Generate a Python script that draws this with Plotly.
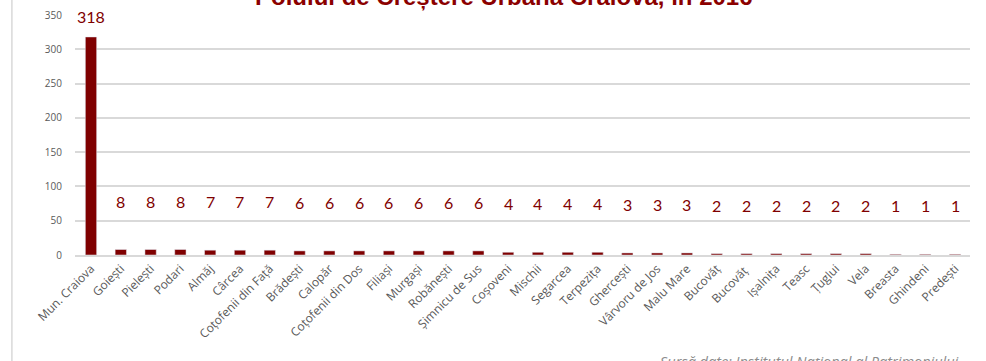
import plotly.graph_objects as go

localitati = [
    "Mun. Craiova", "Goiești", "Pielești", "Podari", "Almăj", "Cârcea",
    "Coțofenii din Față", "Brădești", "Calopăr", "Coțofenii din Dos",
    "Filiași", "Murgași", "Robănești", "Șimnicu de Sus", "Coșoveni",
    "Mischii", "Segarcea", "Terpezița", "Ghercești", "Vârvoru de Jos",
    "Malu Mare", "Bucovăț", "Bucovăț ", "Ișalnița", "Teasc", "Țuglui",
    "Vela", "Breasta", "Ghindeni", "Predești",
]
monumente = [318, 8, 8, 8, 7, 7, 7, 6, 6, 6, 6, 6, 6, 6, 4, 4, 4, 4,
             3, 3, 3, 2, 2, 2, 2, 2, 2, 1, 1, 1]
y_ticks = [0, 50, 100, 150, 200, 250, 300, 350]

titlu = "Polului de Creștere Urbană Craiova, în 2016"
sursa = "Sursă date: Institutul Național al Patrimoniului"

RED = "#7f0000"
GRAY = "#595959"

fig = go.Figure(go.Bar(
    x=localitati,
    y=monumente,
    marker_color=RED,
    width=0.38,
    hoverinfo="x+y",
))

# data labels (small values sit higher above the bars, like the original)
for loc, val in zip(localitati, monumente):
    fig.add_annotation(
        x=loc, y=val, text=str(val), showarrow=False,
        yanchor="bottom", yshift=37 if val < 50 else 9,
        font=dict(family="Lato, Open Sans, sans-serif", size=16, color=RED),
    )

# title is cut off by the top edge in the original
fig.add_annotation(
    xref="paper", yref="paper", x=0.479, y=1.075, text=f"<b>{titlu}</b>",
    showarrow=False, yanchor="middle",
    font=dict(family="Liberation Sans, Arial, sans-serif", size=24, color="#8b0000"),
)
fig.add_annotation(
    xref="paper", yref="paper", x=0.99, y=-0.445, text=f"<i>{sursa}</i>",
    showarrow=False, xanchor="right", yanchor="middle",
    font=dict(family="Open Sans, Lato, sans-serif", size=14.5, color="#8c8c8c"),
)
fig.add_shape(
    type="line", xref="paper", yref="paper", x0=-0.0705, x1=-0.0705,
    y0=-0.6, y1=1.2, line=dict(color="#d9d9d9", width=1.5),
)

fig.update_layout(
    width=986, height=361,
    margin=dict(l=75, r=16, t=15, b=106),
    paper_bgcolor="white", plot_bgcolor="white",
    showlegend=False,
    font=dict(family="Open Sans, Lato, sans-serif", color=GRAY),
)
fig.update_xaxes(
    tickangle=-45, tickfont=dict(size=12, color=GRAY),
    showline=True, linecolor="#d9d9d9", linewidth=2,
    ticks="", showgrid=False, automargin=False,
)
fig.update_yaxes(
    range=[0, 350], tickvals=y_ticks, tickfont=dict(size=10, color=GRAY),
    showgrid=True, gridcolor="#d9d9d9", gridwidth=1.5,
    zeroline=False, ticks="", ticklabelstandoff=12, automargin=False,
)

fig.write_html(
    "out.html",
    config={"displayModeBar": False},
    post_script="document.body.style.margin='0';",
)
